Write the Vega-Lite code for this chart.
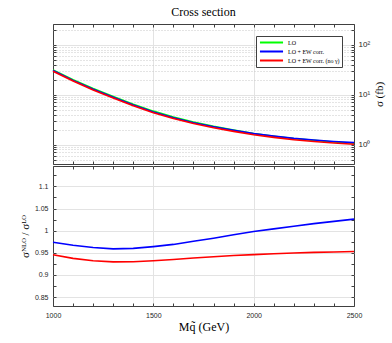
{
  "$schema": "https://vega.github.io/schema/vega-lite/v6.json",
  "padding": {"left": 18, "right": 5, "top": 5, "bottom": 5},
  "spacing": 0,
  "config": {
    "view": {"stroke": "#404040", "strokeWidth": 1},
    "axis": {"labelFont": "Liberation Sans", "labelFontSize": 7, "labelColor": "#262626", "titleFont": "Liberation Serif", "titleFontSize": 11, "titleFontWeight": "normal", "titleColor": "#000000", "tickColor": "#404040", "domain": false, "labelOverlap": false, "labelFlush": false},
    "title": {"font": "Liberation Serif", "fontSize": 12, "fontWeight": "normal", "color": "#000000"}
  },
  "datasets": {
    "sigma": [
      {"M": 1000, "series": "LO", "sigma": 31.2}, {"M": 1000, "series": "LO + EW corr.", "sigma": 30.39}, {"M": 1000, "series": "LO + EW corr. (no γ)", "sigma": 29.5},
      {"M": 1100, "series": "LO", "sigma": 19.95}, {"M": 1100, "series": "LO + EW corr.", "sigma": 19.29}, {"M": 1100, "series": "LO + EW corr. (no γ)", "sigma": 18.7},
      {"M": 1200, "series": "LO", "sigma": 13.34}, {"M": 1200, "series": "LO + EW corr.", "sigma": 12.83}, {"M": 1200, "series": "LO + EW corr. (no γ)", "sigma": 12.43},
      {"M": 1300, "series": "LO", "sigma": 9.23}, {"M": 1300, "series": "LO + EW corr.", "sigma": 8.85}, {"M": 1300, "series": "LO + EW corr. (no γ)", "sigma": 8.58},
      {"M": 1400, "series": "LO", "sigma": 6.46}, {"M": 1400, "series": "LO + EW corr.", "sigma": 6.2}, {"M": 1400, "series": "LO + EW corr. (no γ)", "sigma": 6.01},
      {"M": 1500, "series": "LO", "sigma": 4.68}, {"M": 1500, "series": "LO + EW corr.", "sigma": 4.51}, {"M": 1500, "series": "LO + EW corr. (no γ)", "sigma": 4.36},
      {"M": 1600, "series": "LO", "sigma": 3.55}, {"M": 1600, "series": "LO + EW corr.", "sigma": 3.44}, {"M": 1600, "series": "LO + EW corr. (no γ)", "sigma": 3.32},
      {"M": 1700, "series": "LO", "sigma": 2.82}, {"M": 1700, "series": "LO + EW corr.", "sigma": 2.75}, {"M": 1700, "series": "LO + EW corr. (no γ)", "sigma": 2.65},
      {"M": 1800, "series": "LO", "sigma": 2.32}, {"M": 1800, "series": "LO + EW corr.", "sigma": 2.28}, {"M": 1800, "series": "LO + EW corr. (no γ)", "sigma": 2.18},
      {"M": 1900, "series": "LO", "sigma": 1.95}, {"M": 1900, "series": "LO + EW corr.", "sigma": 1.93}, {"M": 1900, "series": "LO + EW corr. (no γ)", "sigma": 1.84},
      {"M": 2000, "series": "LO", "sigma": 1.667}, {"M": 2000, "series": "LO + EW corr.", "sigma": 1.664}, {"M": 2000, "series": "LO + EW corr. (no γ)", "sigma": 1.577},
      {"M": 2100, "series": "LO", "sigma": 1.472}, {"M": 2100, "series": "LO + EW corr.", "sigma": 1.478}, {"M": 2100, "series": "LO + EW corr. (no γ)", "sigma": 1.395},
      {"M": 2200, "series": "LO", "sigma": 1.324}, {"M": 2200, "series": "LO + EW corr.", "sigma": 1.337}, {"M": 2200, "series": "LO + EW corr. (no γ)", "sigma": 1.257},
      {"M": 2300, "series": "LO", "sigma": 1.216}, {"M": 2300, "series": "LO + EW corr.", "sigma": 1.236}, {"M": 2300, "series": "LO + EW corr. (no γ)", "sigma": 1.156},
      {"M": 2400, "series": "LO", "sigma": 1.132}, {"M": 2400, "series": "LO + EW corr.", "sigma": 1.156}, {"M": 2400, "series": "LO + EW corr. (no γ)", "sigma": 1.078},
      {"M": 2500, "series": "LO", "sigma": 1.067}, {"M": 2500, "series": "LO + EW corr.", "sigma": 1.095}, {"M": 2500, "series": "LO + EW corr. (no γ)", "sigma": 1.017}
    ],
    "ratio": [
      {"M": 1000, "series": "LO + EW corr.", "r": 0.974}, {"M": 1000, "series": "LO + EW corr. (no γ)", "r": 0.9455},
      {"M": 1100, "series": "LO + EW corr.", "r": 0.967}, {"M": 1100, "series": "LO + EW corr. (no γ)", "r": 0.9375},
      {"M": 1200, "series": "LO + EW corr.", "r": 0.962}, {"M": 1200, "series": "LO + EW corr. (no γ)", "r": 0.932},
      {"M": 1300, "series": "LO + EW corr.", "r": 0.959}, {"M": 1300, "series": "LO + EW corr. (no γ)", "r": 0.9295},
      {"M": 1400, "series": "LO + EW corr.", "r": 0.96}, {"M": 1400, "series": "LO + EW corr. (no γ)", "r": 0.9298},
      {"M": 1500, "series": "LO + EW corr.", "r": 0.964}, {"M": 1500, "series": "LO + EW corr. (no γ)", "r": 0.932},
      {"M": 1600, "series": "LO + EW corr.", "r": 0.969}, {"M": 1600, "series": "LO + EW corr. (no γ)", "r": 0.935},
      {"M": 1700, "series": "LO + EW corr.", "r": 0.976}, {"M": 1700, "series": "LO + EW corr. (no γ)", "r": 0.9385},
      {"M": 1800, "series": "LO + EW corr.", "r": 0.983}, {"M": 1800, "series": "LO + EW corr. (no γ)", "r": 0.941},
      {"M": 1900, "series": "LO + EW corr.", "r": 0.991}, {"M": 1900, "series": "LO + EW corr. (no γ)", "r": 0.944},
      {"M": 2000, "series": "LO + EW corr.", "r": 0.998}, {"M": 2000, "series": "LO + EW corr. (no γ)", "r": 0.946},
      {"M": 2100, "series": "LO + EW corr.", "r": 1.004}, {"M": 2100, "series": "LO + EW corr. (no γ)", "r": 0.948},
      {"M": 2200, "series": "LO + EW corr.", "r": 1.01}, {"M": 2200, "series": "LO + EW corr. (no γ)", "r": 0.9495},
      {"M": 2300, "series": "LO + EW corr.", "r": 1.016}, {"M": 2300, "series": "LO + EW corr. (no γ)", "r": 0.951},
      {"M": 2400, "series": "LO + EW corr.", "r": 1.021}, {"M": 2400, "series": "LO + EW corr. (no γ)", "r": 0.952},
      {"M": 2500, "series": "LO + EW corr.", "r": 1.026}, {"M": 2500, "series": "LO + EW corr. (no γ)", "r": 0.953}
    ]
  },
  "vconcat": [
    {
      "width": 301,
      "height": 140,
      "title": {"text": "Cross section", "offset": 5},
      "data": {"name": "sigma"},
      "resolve": {"axis": {"x": "independent", "y": "independent"}},
      "layer": [
        {
          "mark": {"type": "line", "strokeWidth": 1.6},
          "encoding": {
            "x": {"field": "M", "type": "quantitative", "scale": {"domain": [1000, 2500], "nice": false, "zero": false},
              "axis": {"orient": "bottom", "values": [1000,1100,1200,1300,1400,1500,1600,1700,1800,1900,2000,2100,2200,2300,2400,2500], "labels": false, "title": null, "tickSize": -3,
                "grid": true, "gridColor": {"condition": {"test": "datum.value == 1500 || datum.value == 2000", "value": "#e3e3e3"}, "value": "transparent"}}},
            "y": {"field": "sigma", "type": "quantitative", "scale": {"type": "log", "domain": [0.41, 259], "nice": false},
              "axis": {"orient": "right", "values": [0.5,0.6,0.7,0.8,0.9,1,2,3,4,5,6,7,8,9,10,20,30,40,50,60,70,80,90,100,200],
                "labelExpr": "datum.value == 1 ? '10⁰' : datum.value == 10 ? '10¹' : datum.value == 100 ? '10²' : ''",
                "labelFontSize": 8, "tickSize": -3, "labelPadding": 7,
                "grid": true, "gridColor": {"condition": {"test": "datum.value == 1 || datum.value == 10 || datum.value == 100", "value": "#e3e3e3"}, "value": "#c8c8c8"},
                "gridDash": {"condition": {"test": "datum.value == 1 || datum.value == 10 || datum.value == 100", "value": []}, "value": [1, 2]},
                "title": "σ (fb)", "titleAngle": 270, "titleBaseline": "top", "titlePadding": 4, "titleFontSize": 11}},
            "color": {"field": "series", "type": "nominal",
              "scale": {"domain": ["LO", "LO + EW corr.", "LO + EW corr. (no γ)"], "range": ["#00ff00", "#0000ff", "#ff0000"]},
              "legend": {"orient": "none", "legendX": 203, "legendY": 12, "title": null, "symbolType": "M-3.3,0H3.3", "symbolSize": 49, "symbolStrokeWidth": 2, "symbolOffset": 9,
                "labelFont": "Liberation Serif", "labelFontSize": 6, "labelColor": "#000000", "rowPadding": 0, "padding": 2, "strokeColor": "#404040", "fillColor": "#ffffff", "labelOffset": 12}}
          }
        },
        {
          "mark": {"type": "line", "strokeOpacity": 0},
          "encoding": {
            "x": {"field": "M", "type": "quantitative", "scale": {"domain": [1000, 2500], "nice": false, "zero": false},
              "axis": {"orient": "top", "values": [1000,1100,1200,1300,1400,1500,1600,1700,1800,1900,2000,2100,2200,2300,2400,2500], "labels": false, "title": null, "tickSize": -3, "grid": false}},
            "y": {"field": "sigma", "type": "quantitative", "scale": {"type": "log", "domain": [0.41, 259], "nice": false},
              "axis": {"orient": "left", "values": [0.5,0.6,0.7,0.8,0.9,1,2,3,4,5,6,7,8,9,10,20,30,40,50,60,70,80,90,100,200], "labels": false, "title": null, "tickSize": -3, "grid": false}},
            "detail": {"field": "series"}
          }
        }
      ]
    },
    {
      "width": 301,
      "height": 140,
      "data": {"name": "ratio"},
      "resolve": {"axis": {"x": "independent", "y": "independent"}},
      "layer": [
        {
          "mark": {"type": "line", "strokeWidth": 1.6},
          "encoding": {
            "x": {"field": "M", "type": "quantitative", "scale": {"domain": [1000, 2500], "nice": false, "zero": false},
              "axis": {"orient": "bottom", "values": [1000,1100,1200,1300,1400,1500,1600,1700,1800,1900,2000,2100,2200,2300,2400,2500],
                "labelExpr": "datum.value % 500 == 0 ? datum.value : ''", "tickSize": -3, "labelPadding": 8,
                "grid": true, "gridColor": {"condition": {"test": "datum.value == 1500 || datum.value == 2000", "value": "#e3e3e3"}, "value": "transparent"},
                "title": "Mq̃ (GeV)", "titleFontSize": 12, "titlePadding": 3}},
            "y": {"field": "r", "type": "quantitative", "scale": {"domain": [0.83, 1.146], "nice": false, "zero": false},
              "axis": {"orient": "left", "values": [0.85,0.875,0.9,0.925,0.95,0.975,1,1.025,1.05,1.075,1.1,1.125],
                "labelExpr": "abs(datum.value*20 - round(datum.value*20)) < 0.000001 ? format(datum.value, '.3~f') : ''",
                "tickSize": -3, "labelPadding": 8,
                "grid": true, "gridColor": {"condition": {"test": "abs(datum.value*20 - round(datum.value*20)) < 0.000001", "value": "#e3e3e3"}, "value": "transparent"},
                "title": "σᴺᴸᴼ / σᴸᴼ", "titleFontSize": 11, "titlePadding": 4}},
            "color": {"field": "series", "type": "nominal",
              "scale": {"domain": ["LO", "LO + EW corr.", "LO + EW corr. (no γ)"], "range": ["#00ff00", "#0000ff", "#ff0000"]},
              "legend": null}
          }
        },
        {
          "mark": {"type": "line", "strokeOpacity": 0},
          "encoding": {
            "x": {"field": "M", "type": "quantitative", "scale": {"domain": [1000, 2500], "nice": false, "zero": false},
              "axis": {"orient": "top", "values": [1000,1100,1200,1300,1400,1500,1600,1700,1800,1900,2000,2100,2200,2300,2400,2500], "labels": false, "title": null, "tickSize": -3, "grid": false}},
            "y": {"field": "r", "type": "quantitative", "scale": {"domain": [0.83, 1.146], "nice": false, "zero": false},
              "axis": {"orient": "right", "values": [0.85,0.875,0.9,0.925,0.95,0.975,1,1.025,1.05,1.075,1.1,1.125], "labels": false, "title": null, "tickSize": -3, "grid": false}},
            "detail": {"field": "series"}
          }
        }
      ]
    }
  ]
}
